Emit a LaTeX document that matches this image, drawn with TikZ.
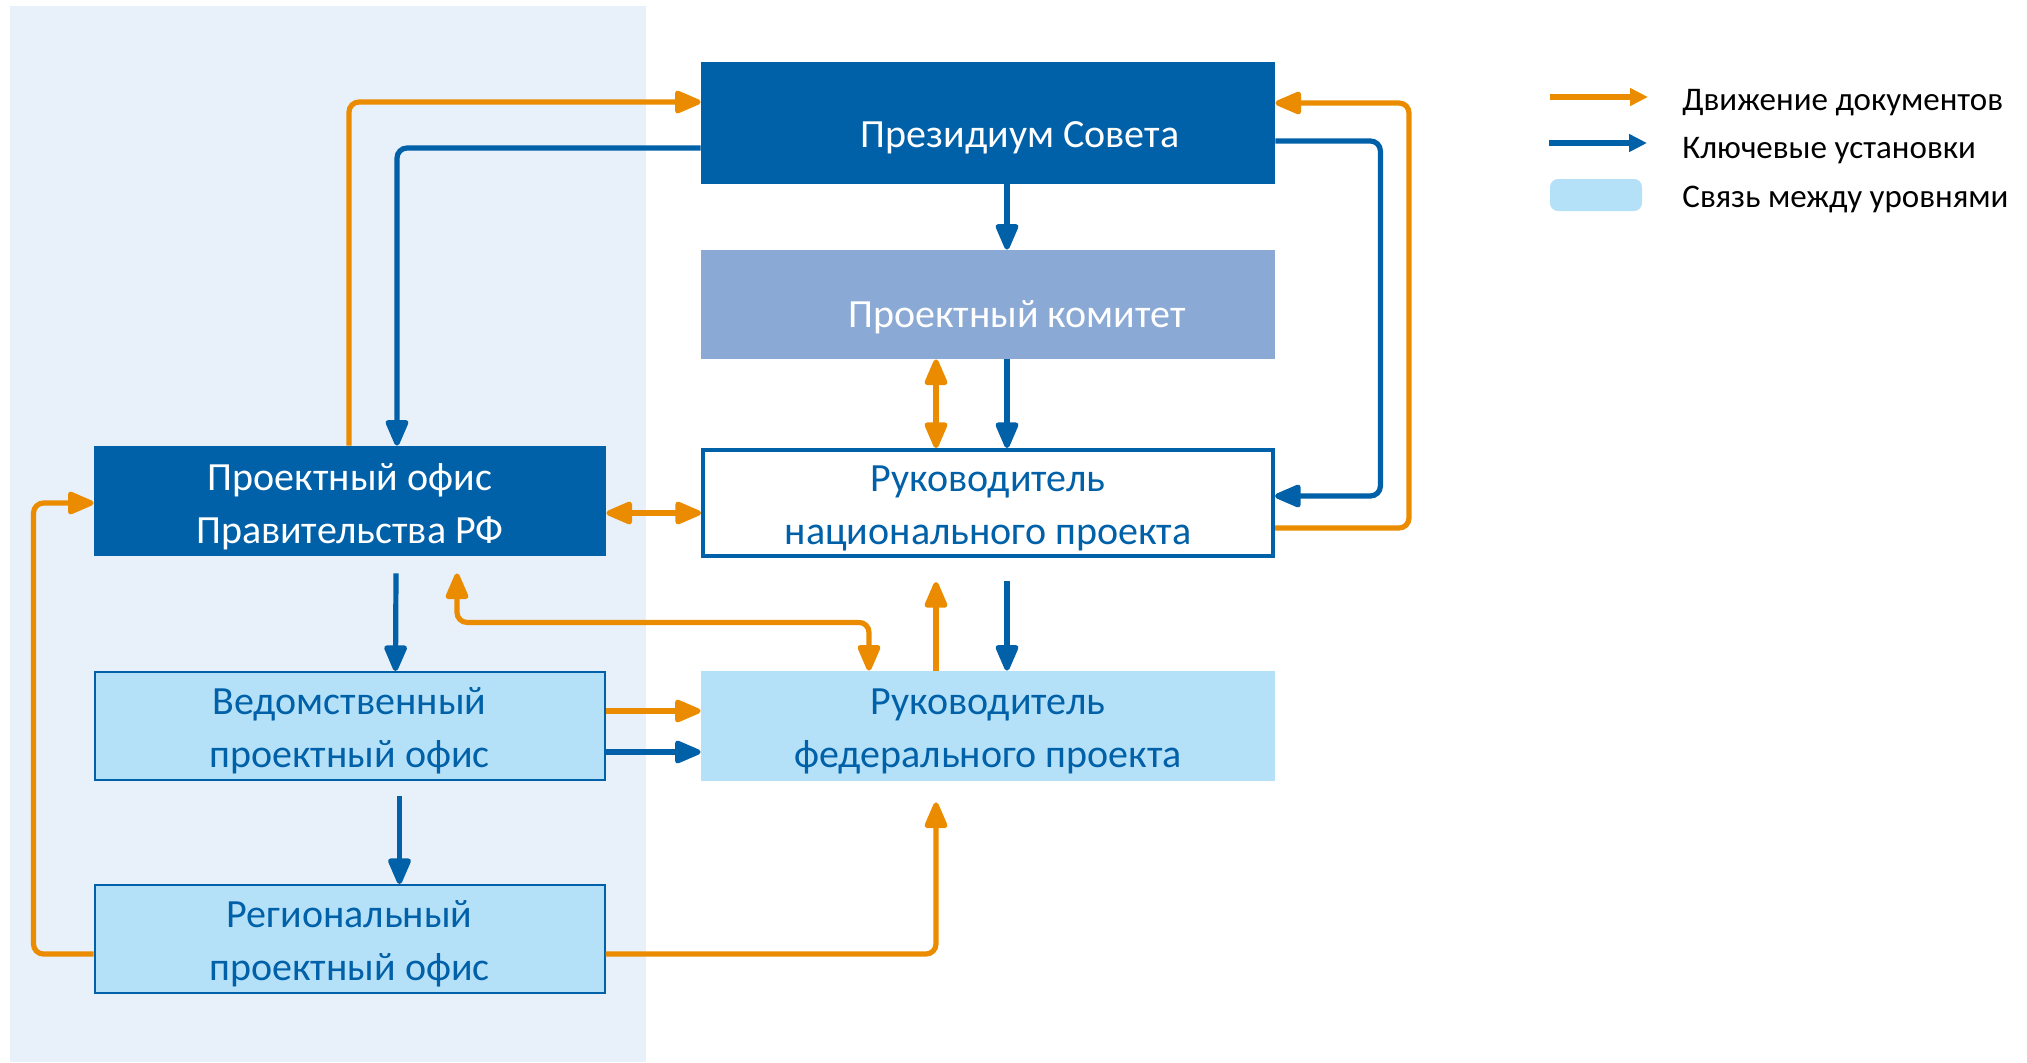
\documentclass[tikz,border=0pt]{standalone}
\usepackage{fontspec}
\setmainfont{Carlito}
\usepackage{xcolor}
\usetikzlibrary{arrows.meta}

\definecolor{darkblue}{RGB}{0,96,168}
\definecolor{midblue}{RGB}{138,169,212}
\definecolor{lightblue}{RGB}{181,225,248}
\definecolor{panelblue}{RGB}{232,240,250}
\definecolor{docorange}{RGB}{235,140,0}

\begin{document}
\begin{tikzpicture}[x=0.5pt,y=-0.5pt,
  boxtext/.style={font=\fontsize{20}{26.5}\selectfont,align=center,inner sep=0pt},
  wide/.style={minimum width=287pt,minimum height=55pt,inner sep=0pt},
  narrow/.style={minimum width=256pt,minimum height=55pt,inner sep=0pt},
  keyline/.style={draw=darkblue,line width=2.6pt,-{Triangle[length=15pt,width=12pt,round]},rounded corners=5pt},
  docline/.style={draw=docorange,line width=2.6pt,-{Triangle[length=15pt,width=12pt,round]},rounded corners=5pt},
  docboth/.style={docline,{Triangle[length=15pt,width=12pt,round]}-{Triangle[length=15pt,width=12pt,round]}},
  legtext/.style={font=\fontsize{16.5}{19}\selectfont,anchor=base west,inner sep=0pt}
]
\useasboundingbox (0,0) rectangle (2027,1062);
\fill[panelblue] (10,6) rectangle (646,1062);

\node[wide,fill=darkblue,minimum height=61pt] (prez) at (988,123) {};
\node[boxtext,white,anchor=base] (prezt) at (1020,147) {Президиум Совета};
\node[wide,fill=midblue,minimum height=54.5pt] (kom) at (988,304.5) {};
\node[boxtext,white,anchor=base] (komt) at (1017,327) {Проектный комитет};
\node[wide,draw=darkblue,fill=white,line width=2pt,minimum width=285pt,minimum height=53pt] (rnp) at (988,503) {};
\node[boxtext,darkblue] (rnpt) at ([yshift=-2.6pt]rnp) {Руководитель\\национального проекта};
\node[wide,fill=lightblue] (rfp) at (988,726) {};
\node[boxtext,darkblue] (rfpt) at ([yshift=-2.6pt]rfp) {Руководитель\\федерального проекта};

\node[narrow,fill=darkblue] (pof) at (350,501) {};
\node[boxtext,white] (poft) at ([yshift=-2.6pt]pof) {Проектный офис\\Правительства РФ};
\node[narrow,fill=lightblue,draw=darkblue,line width=1pt,minimum width=255pt,minimum height=54pt] (ved) at (349.5,726) {};
\node[boxtext,darkblue] (vedt) at ([yshift=-2.6pt]ved) {Ведомственный\\проектный офис};
\node[narrow,fill=lightblue,draw=darkblue,line width=1pt,minimum width=255pt,minimum height=54pt] (reg) at (349.5,939) {};
\node[boxtext,darkblue] (regt) at ([yshift=-2.6pt]reg) {Региональный\\проектный офис};

\draw[docline] ([xshift=-0.5pt]pof.north) |- ([yshift=10.5pt]prez.west);
\draw[keyline] ([yshift=-12.5pt]prez.west) -| ([xshift=23.5pt]pof.north);
\draw[keyline] ([xshift=9.5pt]prez.south) -- ([xshift=9.5pt]kom.north);
\draw[docboth] ([xshift=-26pt]kom.south) -- ([xshift=-26pt]rnp.south |- rnp.north);
\draw[keyline] ([xshift=9.5pt]kom.south) -- ([xshift=9.5pt]rnp.south |- rnp.north);
\draw[docboth] ([yshift=-6pt]pof.east) -- ([yshift=-5pt]rnp.west);
\draw[keyline] ([yshift=-9pt]prez.east) -- ++(52.5pt,0) |- ([yshift=3.5pt]rnp.east);
\draw[docline] ([yshift=-12.5pt]rnp.east) -- ++(67pt,0) |- ([yshift=10pt]prez.east);

\draw[keyline] ([xshift=23pt,yshift=-8.5pt]pof.south) -- ([xshift=23pt]ved.north);
\draw[docboth] ([xshift=53.5pt,yshift=-8.5pt]pof.south) -- ++(0,-24.5pt) -| ([xshift=-59.5pt]rfp.north);
\draw[docline] ([xshift=-26pt]rfp.north) -- ([xshift=-26pt,yshift=-12pt]rnp.south);
\draw[keyline] ([xshift=9.5pt,yshift=-11.5pt]rnp.south) -- ([xshift=9.5pt]rfp.north);
\draw[docline] ([yshift=7.5pt]ved.east) -- ([yshift=7.5pt]rfp.west);
\draw[keyline] ([yshift=-13pt]ved.east) -- ([yshift=-13pt]rfp.west);
\draw[keyline] ([xshift=25pt,yshift=-7.5pt]ved.south) -- ([xshift=25pt]reg.north);
\draw[docline] ([yshift=-7.5pt]reg.west) -- ++(-30pt,0) |- ([yshift=-1pt]pof.west);
\draw[docline] ([yshift=-7.5pt]reg.east) -| ([xshift=-26pt,yshift=-10.5pt]rfp.south);

\coordinate (lgdoc) at (1550,97);
\coordinate (lgkey) at (1549,143);
\draw[draw=docorange,line width=3pt,-{Triangle[length=9pt,width=8.5pt]}] (lgdoc) -- ++(49pt,0);
\draw[draw=darkblue,line width=3pt,-{Triangle[length=9pt,width=8.5pt]}] (lgkey) -- ++(49pt,0);
\node[fill=lightblue,rounded corners=4pt,minimum width=46pt,minimum height=16pt,inner sep=0pt] (lglvl) at (1596,195) {};
\node[legtext] (lgdoct) at (1682,110) {Движение документов};
\node[legtext] (lgkeyt) at (1682,158) {Ключевые установки};
\node[legtext] (lglvlt) at (1682,207) {Связь между уровнями};
\end{tikzpicture}
\end{document}
